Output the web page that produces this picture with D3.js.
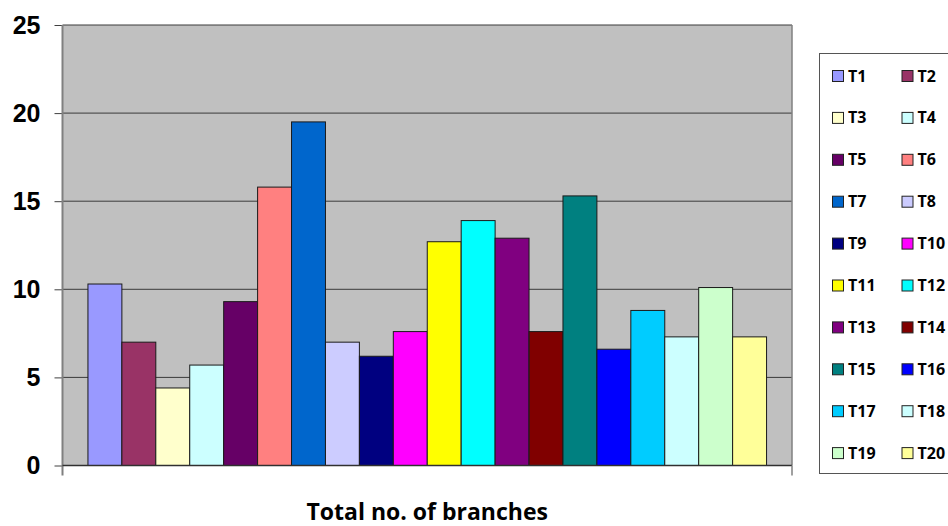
<!DOCTYPE html>
<html>
<head>
<meta charset="utf-8">
<script src="https://cdn.jsdelivr.net/npm/d3@7"></script>
<style>
  html, body { margin: 0; padding: 0; background: #ffffff; }
  svg { display: block; font-family: "Open Sans", Lato, sans-serif; }
</style>
</head>
<body>
<svg id="chart" width="948" height="526"></svg>
<script>
// Treatments and their total number of branches
const category = "Total no. of branches";
const treatments = ["T1","T2","T3","T4","T5","T6","T7","T8","T9","T10",
                    "T11","T12","T13","T14","T15","T16","T17","T18","T19","T20"];
const branches = [10.3, 7.0, 4.4, 5.7, 9.3, 15.8, 19.5, 7.0, 6.2, 7.6,
                  12.7, 13.9, 12.9, 7.6, 15.3, 6.6, 8.8, 7.3, 10.1, 7.3];
const colors = ["#9999FF","#993366","#FFFFCC","#CCFFFF","#660066","#FF8080","#0066CC","#CCCCFF","#000080","#FF00FF",
                "#FFFF00","#00FFFF","#800080","#800000","#008080","#0000FF","#00CCFF","#CCFFFF","#CCFFCC","#FFFF99"];
const yTicks = [0, 5, 10, 15, 20, 25];

const svg = d3.select("#chart");
const plot = { left: 62.5, right: 792, top: 25, bottom: 465.5 };

const y = d3.scaleLinear().domain([0, 25]).range([plot.bottom, plot.top]);
// one category, bars fill it with a 150% gap split over both sides
const x0 = d3.scaleBand().domain([category]).range([plot.left, plot.right])
  .paddingInner(0).paddingOuter(0.0375);
const x1 = d3.scaleBand().domain(treatments).range([0, x0.bandwidth()]).padding(0);

// plot area
svg.append("rect")
  .attr("x", plot.left).attr("y", plot.top)
  .attr("width", plot.right - plot.left).attr("height", plot.bottom - plot.top)
  .attr("fill", "#c0c0c0");

// horizontal gridlines
svg.append("g").selectAll("line")
  .data(yTicks.filter(d => d > 0))
  .join("line")
  .attr("x1", plot.left).attr("x2", plot.right)
  .attr("y1", d => y(d)).attr("y2", d => y(d))
  .attr("stroke", "#3a3a3a").attr("stroke-width", 1);

// right border of the plot area
svg.append("line")
  .attr("x1", plot.right).attr("x2", plot.right)
  .attr("y1", plot.top).attr("y2", plot.bottom)
  .attr("stroke", "#808080").attr("stroke-width", 1.5);

// bars
svg.append("g")
  .attr("transform", `translate(${x0(category)},0)`)
  .selectAll("rect")
  .data(treatments.map((t, i) => ({ t, v: branches[i], c: colors[i] })))
  .join("rect")
  .attr("x", d => x1(d.t))
  .attr("y", d => y(d.v))
  .attr("width", x1.bandwidth())
  .attr("height", d => y(0) - y(d.v))
  .attr("fill", d => d.c)
  .attr("stroke", "#1a1a1a")
  .attr("stroke-width", 1);

// y axis
const yAxis = svg.append("g")
  .attr("transform", `translate(${plot.left},0)`)
  .call(d3.axisLeft(y).tickValues(yTicks).tickSize(8).tickPadding(14).tickFormat(d3.format("d")));
yAxis.select(".domain").remove();
yAxis.selectAll(".tick line").attr("stroke", "#404040");
yAxis.selectAll("text")
  .attr("font-size", 25).attr("font-weight", 700).attr("fill", "#000");
svg.append("line")
  .attr("x1", plot.left).attr("x2", plot.left)
  .attr("y1", plot.top).attr("y2", plot.bottom + 10)
  .attr("stroke", "#808080").attr("stroke-width", 2);

// x axis with the category name below
const xAxis = svg.append("g")
  .attr("transform", `translate(0,${plot.bottom})`)
  .call(d3.axisBottom(x0).tickSize(0).tickFormat(""));
xAxis.select(".domain").remove();
svg.append("line")
  .attr("x1", plot.left).attr("x2", plot.right)
  .attr("y1", plot.bottom).attr("y2", plot.bottom)
  .attr("stroke", "#303030").attr("stroke-width", 1.5);
svg.append("line")
  .attr("x1", plot.right).attr("x2", plot.right)
  .attr("y1", plot.bottom).attr("y2", plot.bottom + 10)
  .attr("stroke", "#808080").attr("stroke-width", 1.5);
svg.append("text")
  .attr("x", x0(category) + x0.bandwidth() / 2)
  .attr("y", 520)
  .attr("text-anchor", "middle")
  .attr("font-size", 23).attr("font-weight", 700).attr("fill", "#000")
  .text(category);

// legend
const legend = svg.append("g");
legend.append("rect")
  .attr("x", 819.5).attr("y", 53.5).attr("width", 140).attr("height", 420)
  .attr("fill", "#fff").attr("stroke", "#555").attr("stroke-width", 1);
const items = legend.selectAll("g.item")
  .data(treatments)
  .join("g")
  .attr("class", "item")
  .attr("transform", (d, i) => `translate(${i % 2 === 0 ? 832 : 901.5},${70 + Math.floor(i / 2) * 41.9})`);
items.append("rect")
  .attr("x", 0.5).attr("y", 0.5).attr("width", 11).attr("height", 11)
  .attr("fill", (d, i) => colors[i])
  .attr("stroke", "#222").attr("stroke-width", 1);
items.append("text")
  .attr("x", 16).attr("y", 11.5)
  .attr("font-size", 16).attr("font-weight", 700).attr("fill", "#000")
  .text(d => d);
</script>
</body>
</html>
